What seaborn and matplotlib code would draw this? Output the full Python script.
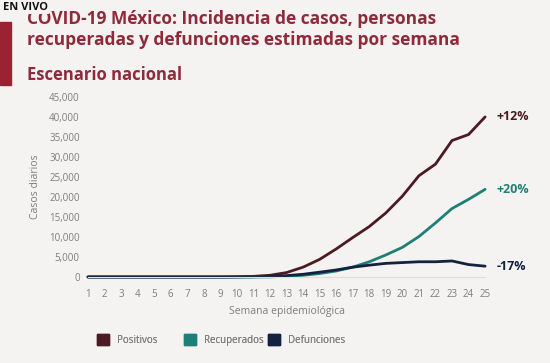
import matplotlib
matplotlib.use("Agg")
import matplotlib.pyplot as plt
import seaborn as sns
import pandas as pd
from matplotlib.patches import Rectangle, Patch

weeks = list(range(1, 26))
positivos = [0, 0, 0, 0, 0, 0, 0, 0, 10, 50, 150, 420, 1100, 2450, 4400, 7000,
             9850, 12600, 16000, 20200, 25300, 28200, 34100, 35600, 40000]
recuperados = [0, 0, 0, 0, 0, 0, 0, 0, 0, 0, 0, 20, 170, 420, 850, 1500,
               2450, 3800, 5500, 7400, 10100, 13500, 17100, 19400, 21900]
defunciones = [0, 0, 0, 0, 0, 0, 0, 0, 0, 10, 50, 170, 340, 670, 1200, 1750,
               2450, 2950, 3400, 3600, 3800, 3800, 4000, 3100, 2700]
series_names = ["Positivos", "Recuperados", "Defunciones"]
end_labels = ["+12%", "+20%", "-17%"]
y_ticks = list(range(0, 45001, 5000))

colors = {"Positivos": "#4b1a22", "Recuperados": "#1f7f76", "Defunciones": "#14213f"}

df = pd.DataFrame({
    "Semana": weeks * 3,
    "Casos": positivos + recuperados + defunciones,
    "Serie": sum([[n] * len(weeks) for n in series_names], []),
})

sns.set_style("white")
plt.rcParams["font.family"] = ["Open Sans", "DejaVu Sans"]

bg = "#f4f3f1"
fig = plt.figure(figsize=(5.5, 3.63), dpi=100, facecolor=bg)
ax = fig.add_axes([0.16, 0.237, 0.722, 0.496])
ax.set_facecolor(bg)

sns.lineplot(data=df, x="Semana", y="Casos", hue="Serie", palette=colors,
             linewidth=2.0, legend=False, ax=ax, clip_on=False)

ax.set_xlim(1, 25)
ax.set_ylim(0, 45000)
ax.set_xticks(weeks)
ax.set_xticklabels([str(w) for w in weeks])
ax.set_yticks(y_ticks)
ax.set_yticklabels([f"{v:,}" for v in y_ticks])
ax.tick_params(axis="both", length=0, labelsize=7, colors="#7d7d7d", pad=6)
ax.tick_params(axis="x", pad=9)
for s in ["top", "right", "left"]:
    ax.spines[s].set_visible(False)
ax.spines["bottom"].set_color("#dddddd")
ax.set_xlabel("Semana epidemiológica", fontsize=7.5, color="#7d7d7d", labelpad=4)
ax.set_ylabel("Casos diarios", fontsize=7.5, color="#7d7d7d", labelpad=6)

ends = [positivos[-1], recuperados[-1], defunciones[-1]]
for name, val, lab in zip(series_names, ends, end_labels):
    ax.annotate(lab, xy=(25, val), xytext=(8, 0), textcoords="offset points",
                va="center", ha="left", fontsize=9, fontweight="bold",
                color=colors[name], annotation_clip=False)

# legend: one entry per block, placed like the reference
legend_x = [97, 184, 268]
for name, lx in zip(series_names, legend_x):
    leg = fig.legend(handles=[Patch(facecolor=colors[name], edgecolor=colors[name], label=name)],
                     loc="center left", bbox_to_anchor=(lx / 550, 1 - 340 / 363),
                     frameon=False, fontsize=7, labelcolor="#7d7d7d",
                     handlelength=1.25, handleheight=1.25, handletextpad=0.8,
                     borderpad=0, borderaxespad=0)
    fig.add_artist(leg)

# decorations
fig.patches.append(Rectangle((0, 1 - 85 / 363), 11 / 550, 63 / 363,
                             transform=fig.transFigure, color="#9b2233", zorder=1))
tcol = "#8f2a3c"
fig.text(27 / 550, 1 - 19 / 363, "COVID-19 México: Incidencia de casos, personas",
         fontsize=12.5, fontweight="bold", color=tcol, va="center", ha="left")
fig.text(27 / 550, 1 - 40 / 363, "recuperadas y defunciones estimadas por semana",
         fontsize=12.5, fontweight="bold", color=tcol, va="center", ha="left")
fig.text(27 / 550, 1 - 75 / 363, "Escenario nacional",
         fontsize=12, fontweight="bold", color=tcol, va="center", ha="left")
fig.text(3 / 550, 1 - 8 / 363, "EN VIVO", fontsize=8, fontweight="bold",
         color="#111111", va="center", ha="left",
         bbox=dict(facecolor=bg, edgecolor="none", pad=0.5))

fig.savefig("out.png", dpi=100, facecolor=bg)
